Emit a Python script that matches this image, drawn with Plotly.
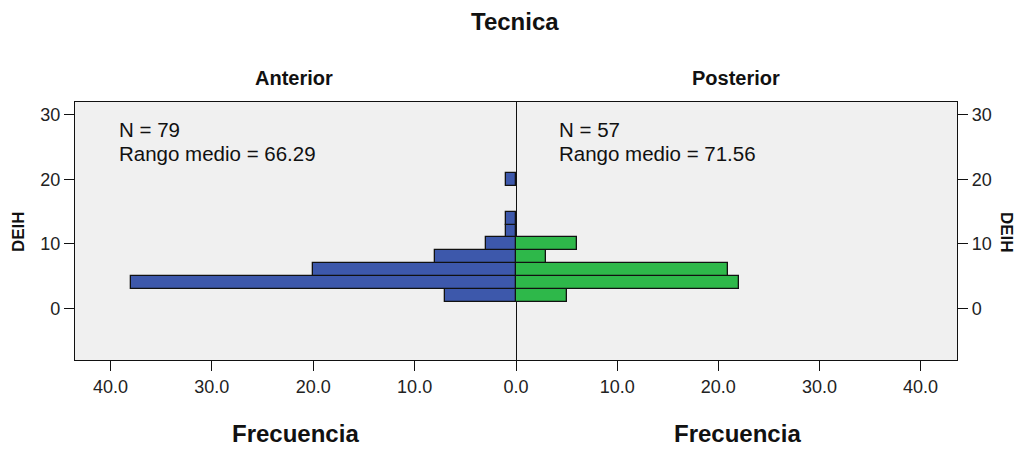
import plotly.graph_objects as go

# Data
bin_centers_ant = [2, 4, 6, 8, 10, 12, 14, 20]
freq_ant = [7, 38, 20, 8, 3, 1, 1, 1]
bin_centers_post = [2, 4, 6, 8, 10]
freq_post = [5, 22, 21, 3, 6]
bin_width = 2
x_ticks_left = [0, 10, 20, 30, 40]
x_ticks_right = [10, 20, 30, 40]
y_ticks = [0, 10, 20, 30]

BLUE = "#3d58ab"
GREEN = "#2eb84a"
FONT = "Liberation Sans, Arial, sans-serif"

# page body has an 8px margin -> figure is offset by 8px
W, H = 1014, 441
PL, PT, PR, PB = 75, 102, 957, 360  # plot area in screen pixels
OFF = 8
ml, mt = PL - OFF, PT - OFF
mr, mb = W - (PR - OFF), H - (PB - OFF)
PW, PH = PR - PL, PB - PT


def px(xs):
    return (xs - PL) / PW


def py(ys):
    return (PB - ys) / PH


fig = go.Figure()
fig.add_trace(go.Bar(
    x=freq_ant, y=bin_centers_ant, orientation="h", width=bin_width,
    marker=dict(color=BLUE, line=dict(color="#111", width=1.3)),
    xaxis="x", yaxis="y", showlegend=False, hoverinfo="x+y"))
fig.add_trace(go.Bar(
    x=freq_post, y=bin_centers_post, orientation="h", width=bin_width,
    marker=dict(color=GREEN, line=dict(color="#111", width=1.3)),
    xaxis="x2", yaxis="y2", showlegend=False, hoverinfo="x+y"))

axis_common = dict(showline=True, linecolor="#111", linewidth=1.3,
                   ticks="outside", ticklen=10, tickwidth=1.2, tickcolor="#111",
                   showgrid=False, zeroline=False, automargin=False,
                   tickfont=dict(family=FONT, size=18, color="#222"))

fig.update_layout(
    width=W, height=H,
    margin=dict(l=ml, r=mr, t=mt, b=mb, pad=0),
    paper_bgcolor="white", plot_bgcolor="#f0f0f0",
    bargap=0,
    xaxis=dict(domain=[0, 0.5], range=[43.5, 0], tickvals=x_ticks_left,
               ticktext=[f"{v:.1f}" for v in x_ticks_left], anchor="y", mirror=True,
               **axis_common),
    xaxis2=dict(domain=[0.5, 1], range=[0, 43.6], tickvals=x_ticks_right,
                ticktext=[f"{v:.1f}" for v in x_ticks_right], anchor="y2", mirror=True,
                **axis_common),
    yaxis=dict(range=[-8, 32], tickvals=y_ticks, anchor="x", side="left", mirror=True,
               **axis_common),
    yaxis2=dict(range=[-8, 32], tickvals=y_ticks, anchor="x2", side="right",
                overlaying="y", mirror=False, **axis_common),
)

ann = []


def add(text, xs, ys, size, xanchor="center", yanchor="middle", angle=0):
    ann.append(dict(text=text, x=px(xs), y=py(ys), xref="paper", yref="paper",
                    xanchor=xanchor, yanchor=yanchor, textangle=angle, showarrow=False,
                    font=dict(family=FONT, size=size, color="#111")))


add("<b>Tecnica</b>", 515, 21, 24)
for xc, t in [(294, "Anterior"), (736, "Posterior")]:
    add(f"<b>{t}</b>", xc, 78, 20)
    add("<b>Frecuencia</b>", xc + 1, 433, 24)
add("<b>DEIH</b>", 18, 232, 17, angle=-90)
add("<b>DEIH</b>", 1007, 232, 17, angle=90)
for xs, n, r in [(117, 79, "66.29"), (557, 57, "71.56")]:
    add(f"N = {n}", xs, 129.5, 20.5, xanchor="left")
    add(f"Rango medio = {r}", xs, 153.5, 20.5, xanchor="left")
fig.update_layout(annotations=ann)

fig.write_html("out.html")
